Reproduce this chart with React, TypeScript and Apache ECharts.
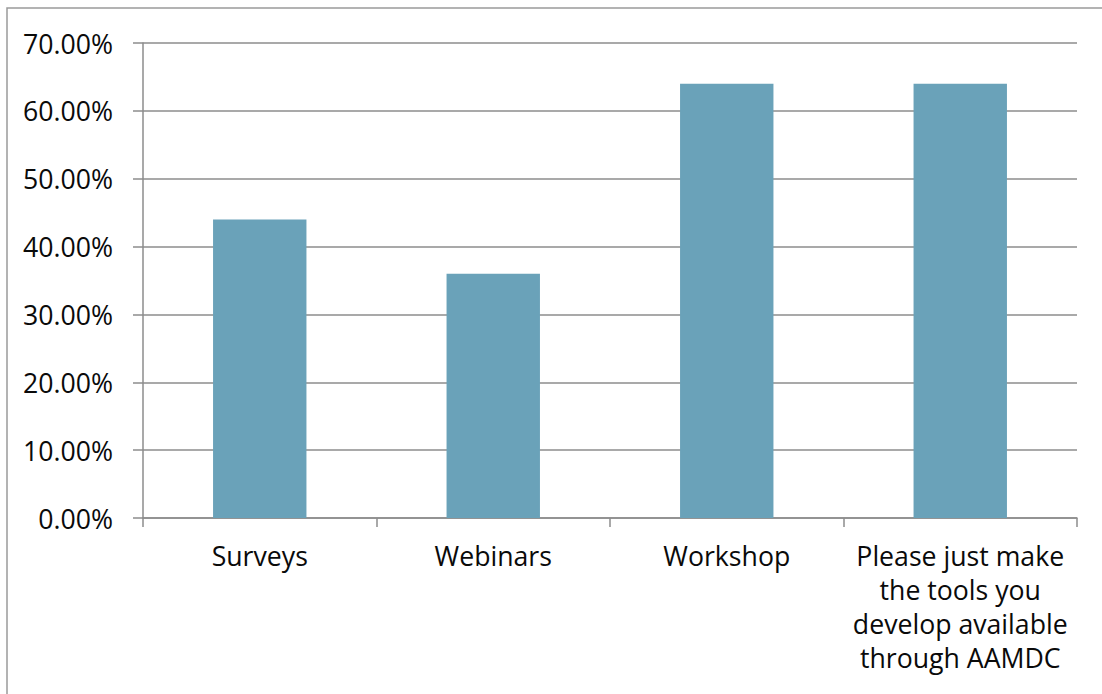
import React, { useEffect, useRef } from "react";
import * as echarts from "echarts";

const categories = [
  "Surveys",
  "Webinars",
  "Workshop",
  "Please just make\nthe tools you\ndevelop available\nthrough AAMDC",
];
const values = [44, 36, 64, 64];
const yMin = 0;
const yMax = 70;
const yInterval = 10;

export default function App() {
  const ref = useRef<HTMLDivElement>(null);
  useEffect(() => {
    if (!ref.current) return;
    const chart = echarts.init(ref.current, undefined, { renderer: "svg" });
    const font = "'Open Sans', 'Noto Sans', sans-serif";
    chart.setOption({
      animation: false,
      backgroundColor: "#ffffff",
      graphic: [
        {
          type: "rect",
          shape: { x: 7, y: 8, width: 1300, height: 900 },
          style: { fill: "none", stroke: "#9a9a9a", lineWidth: 1.5 },
          silent: true,
          z: -10,
        },
      ],
      grid: { left: 143, right: 25, top: 43, bottom: 176, containLabel: false },
      xAxis: {
        type: "category",
        data: categories,
        boundaryGap: true,
        axisLine: { show: true, lineStyle: { color: "#8c8c8c", width: 1.5 } },
        axisTick: {
          show: true,
          alignWithLabel: false,
          length: 9,
          lineStyle: { color: "#8c8c8c", width: 1.5 },
        },
        axisLabel: {
          interval: 0,
          margin: 20,
          color: "#0a0a0a",
          fontFamily: font,
          fontSize: 26.67,
          lineHeight: 34,
        },
      },
      yAxis: {
        type: "value",
        min: yMin,
        max: yMax,
        interval: yInterval,
        axisLine: { show: true, lineStyle: { color: "#8c8c8c", width: 1.5 } },
        axisTick: {
          show: true,
          length: 10,
          lineStyle: { color: "#8c8c8c", width: 1.5 },
        },
        splitLine: { show: true, lineStyle: { color: "#8c8c8c", width: 1.5 } },
        axisLabel: {
          margin: 30,
          color: "#0a0a0a",
          fontFamily: font,
          fontSize: 26.67,
          formatter: (v: number) => v.toFixed(2) + "%",
        },
      },
      series: [
        {
          type: "bar",
          data: values,
          barWidth: "40%",
          itemStyle: { color: "#6AA2B9" },
        },
      ],
    });
    return () => chart.dispose();
  }, []);
  return (
    <div
      ref={ref}
      style={{ position: "fixed", left: 0, top: 0, width: 1102, height: 694 }}
    />
  );
}
